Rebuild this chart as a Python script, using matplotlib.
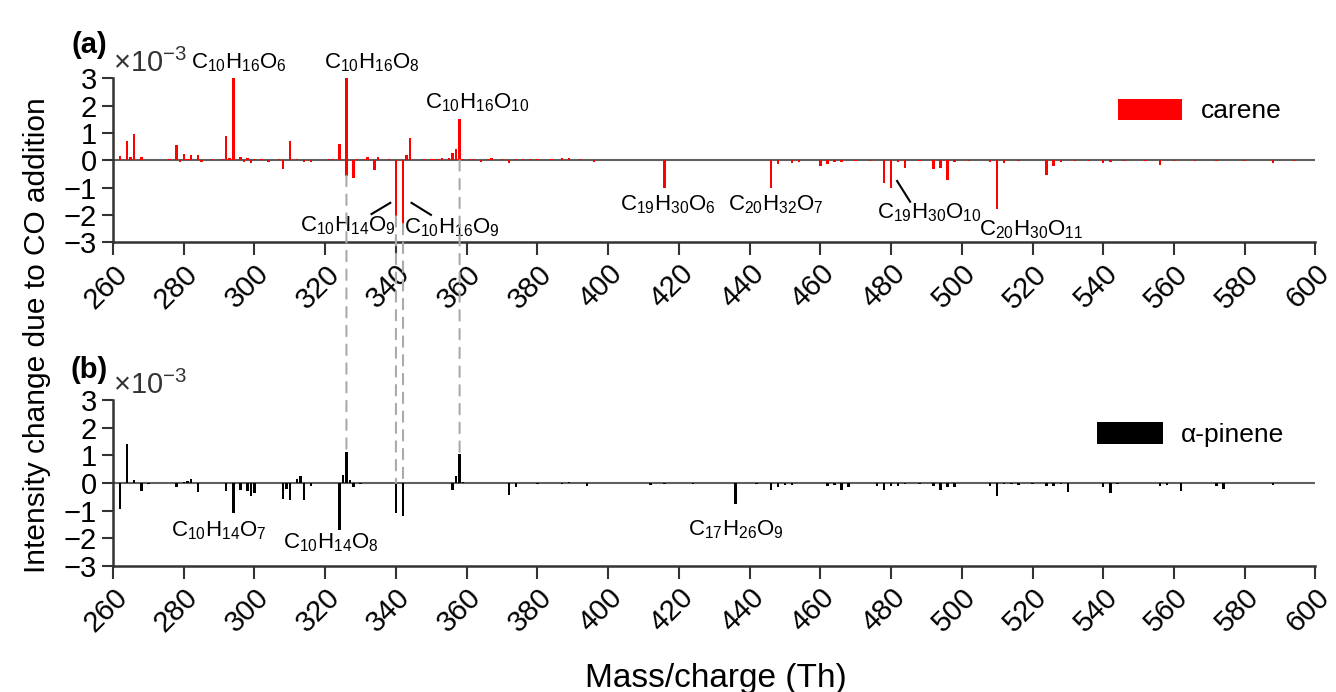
import numpy as np
import matplotlib
matplotlib.use("Agg")
import matplotlib.pyplot as plt
from matplotlib.patches import ConnectionPatch

plt.rcParams['font.family'] = ['Liberation Sans', 'DejaVu Sans']
plt.rcParams['mathtext.fontset'] = 'custom'
plt.rcParams['mathtext.rm'] = 'Liberation Sans'

# carene: mass (Th) and intensity change (x1e-3)
carene_mass = [262, 264, 265, 266, 268, 270, 276, 278, 279, 280, 281, 282, 284, 285, 288,
               291, 292, 293, 294, 296, 297, 298, 299, 300, 302, 304, 307, 308, 310, 312,
               314, 316, 321, 322, 324, 326, 326, 328, 329, 331, 332, 334, 335, 338, 340,
               342, 343, 344, 348, 350, 351, 352, 353, 355, 356, 357, 358, 359, 361, 362,
               364, 366, 367, 370, 372, 374, 376, 378, 380, 384, 387, 389, 392, 396, 400,
               404, 410, 416, 420, 426, 432, 440, 446, 448, 452, 454, 460, 462, 464, 466,
               470, 474, 478, 480, 482, 484, 488, 492, 494, 496, 498, 502, 508, 510, 512,
               516, 524, 526, 528, 532, 536, 540, 542, 546, 552, 556, 560, 566, 572, 580,
               588, 594]
carene_val = [0.16, 0.72, 0.12, 0.97, 0.10, 0.02, 0.05, 0.55, -0.05, 0.24, 0.05, 0.20, 0.18, -0.05, 0.03,
              0.05, 0.88, 0.07, 3.00, 0.10, -0.05, 0.07, -0.10, 0.05, 0.03, -0.07, 0.03, -0.32, 0.69, 0.05,
              -0.07, -0.05, 0.05, 0.05, 0.58, 3.00, -0.57, -0.64, 0.05, 0.05, 0.12, -0.36, 0.12, 0.04, -2.05,
              -2.33, 0.20, 0.81, 0.03, 0.03, 0.05, 0.05, 0.07, 0.07, 0.27, 0.40, 1.49, 0.05, 0.03, 0.05,
              -0.05, 0.03, 0.07, 0.03, -0.10, 0.03, 0.03, 0.03, 0.03, 0.03, 0.07, 0.07, 0.03, -0.07, 0.02,
              0.02, 0.02, -1.03, 0.02, 0.02, 0.02, 0.02, -1.03, -0.15, -0.12, -0.05, -0.20, -0.15, -0.07, -0.07,
              -0.03, -0.03, -0.85, -1.03, -0.05, -0.28, -0.03, -0.31, -0.28, -0.73, -0.07, -0.03, -0.07, -1.77, -0.12,
              -0.03, -0.55, -0.22, -0.05, -0.03, -0.03, -0.10, -0.07, -0.03, -0.03, -0.17, -0.03, -0.03, -0.03, -0.03,
              -0.10, -0.03]

# alpha-pinene
pinene_mass = [262, 264, 266, 268, 270, 278, 280, 281, 282, 284, 292, 294, 296, 298, 299,
               300, 308, 309, 310, 312, 313, 314, 316, 324, 325, 326, 327, 328, 330, 340,
               342, 356, 357, 358, 359, 372, 374, 380, 387, 389, 394, 412, 416, 424, 436,
               442, 446, 448, 450, 452, 462, 464, 466, 468, 476, 478, 480, 482, 484, 488,
               492, 494, 496, 498, 508, 510, 512, 514, 516, 520, 524, 526, 528, 530, 540,
               542, 544, 556, 558, 562, 572, 574, 588]
pinene_val = [-0.95, 1.41, 0.10, -0.28, -0.03, -0.15, 0.05, 0.07, 0.13, -0.32, -0.30, -1.10, -0.25, -0.30, -0.46,
              -0.35, -0.58, -0.20, -0.60, 0.15, 0.25, -0.61, -0.10, -1.68, 0.28, 1.13, 0.10, -0.15, -0.05, -1.10,
              -1.20, -0.25, 0.25, 1.05, 0.05, -0.42, -0.15, -0.03, -0.05, 0.05, -0.12, -0.07, -0.05, -0.04, -0.75,
              -0.03, -0.24, -0.15, -0.07, -0.07, -0.10, -0.08, -0.27, -0.15, -0.10, -0.24, -0.10, -0.10, -0.05, -0.05,
              -0.12, -0.25, -0.15, -0.15, -0.12, -0.46, -0.05, -0.05, -0.07, -0.04, -0.12, -0.10, -0.05, -0.34, -0.15,
              -0.36, -0.03, -0.10, -0.07, -0.28, -0.12, -0.20, -0.08]

# labels: (text, x, y)
carene_labels = [
    (r'$\mathregular{C_{10}H_{16}O_6}$', 295.6, 3.58),
    (r'$\mathregular{C_{10}H_{16}O_8}$', 333.1, 3.58),
    (r'$\mathregular{C_{10}H_{16}O_{10}}$', 363.1, 2.12),
    (r'$\mathregular{C_{10}H_{14}O_9}$', 326.4, -2.41),
    (r'$\mathregular{C_{10}H_{16}O_9}$', 355.7, -2.48),
    (r'$\mathregular{C_{19}H_{30}O_6}$', 417.0, -1.64),
    (r'$\mathregular{C_{20}H_{32}O_7}$', 447.5, -1.64),
    (r'$\mathregular{C_{19}H_{30}O_{10}}$', 490.7, -1.93),
    (r'$\mathregular{C_{20}H_{30}O_{11}}$', 519.5, -2.55),
]
pinene_labels = [
    (r'$\mathregular{C_{10}H_{14}O_7}$', 289.9, -1.73),
    (r'$\mathregular{C_{10}H_{14}O_8}$', 321.6, -2.17),
    (r'$\mathregular{C_{17}H_{26}O_9}$', 436.0, -1.70),
]
leader_lines = [((333.1, -1.97), (338.4, -1.56)),
                ((344.4, -1.56), (349.9, -2.00)),
                ((481.7, -0.76), (485.4, -1.52))]
link_mass = [326, 340, 342, 358]

fig = plt.figure(figsize=(13.36, 6.92), dpi=100)
ax1 = fig.add_axes([0.0846, 0.650, 0.900, 0.237])
ax2 = fig.add_axes([0.0846, 0.182, 0.900, 0.240])

for ax, mass, val, col, name in [(ax1, carene_mass, carene_val, '#ff0000', 'carene'),
                                 (ax2, pinene_mass, pinene_val, 'black', u'\u03b1-pinene')]:
    ax.bar(mass, val, width=0.7, color=col, linewidth=0, zorder=3)
    ax.axhline(0, color='#606060', lw=1.5, zorder=2)
    ax.set_xlim(260, 600)
    ax.set_ylim(-3, 3)
    ax.set_xticks(np.arange(260, 601, 20))
    ax.set_yticks(np.arange(-3, 4, 1))
    ax.tick_params(axis='both', direction='out', length=8, width=1.5, color='#333333',
                   labelsize=21)
    ax.tick_params(axis='x', labelrotation=45, length=9)
    for lab in ax.get_xticklabels():
        lab.set_ha('right')
        lab.set_va('top')
        lab.set_rotation_mode('anchor')
    for s in ['top', 'right']:
        ax.spines[s].set_visible(False)
    for s in ['left', 'bottom']:
        ax.spines[s].set_linewidth(1.8)
        ax.spines[s].set_color('#333333')
    ax.patch.set_alpha(0)
    ax.bar([0], [0], color=col, label=name)
    ax.text(0, 1.0, r'$\times\mathregular{10^{-3}}$', transform=ax.transAxes,
            fontsize=21, ha='left', va='bottom', color='#333333')

ax1.legend(loc='center left', bbox_to_anchor=(0.836, 0.80), frameon=False, fontsize=19,
           handlelength=2.4, handleheight=0.85, handletextpad=0.75, borderpad=0, borderaxespad=0)
ax2.legend(loc='center left', bbox_to_anchor=(0.818, 0.79), frameon=False, fontsize=19,
           handlelength=2.5, handleheight=0.9, handletextpad=0.7, borderpad=0, borderaxespad=0)

for txt, x, y in carene_labels:
    ax1.text(x, y, txt, fontsize=16, ha='center', va='center', clip_on=False)
for txt, x, y in pinene_labels:
    ax2.text(x, y, txt, fontsize=16, ha='center', va='center', clip_on=False)
for (x0, y0), (x1, y1) in leader_lines:
    ax1.plot([x0, x1], [y0, y1], color='black', lw=1.5, zorder=4)

for m in link_mass:
    y_top = min(0, min(v for mm, v in zip(carene_mass, carene_val) if mm == m))
    y_bot = max(0, max(v for mm, v in zip(pinene_mass, pinene_val) if mm == m))
    con = ConnectionPatch(xyA=(m, y_top), coordsA=ax1.transData,
                          xyB=(m, y_bot), coordsB=ax2.transData,
                          color='#aaaaaa', lw=1.5, linestyle=(0, (5, 4)), zorder=1)
    fig.add_artist(con)

fig.text(0.067, 0.935, '(a)', fontsize=21, fontweight='bold', ha='center', va='center')
fig.text(0.067, 0.465, '(b)', fontsize=21, fontweight='bold', ha='center', va='center')
fig.text(0.028, 0.516, 'Intensity change due to CO addition', fontsize=21.5, rotation=90,
         ha='center', va='center')
fig.text(0.536, 0.02, 'Mass/charge (Th)', fontsize=24, ha='center', va='center')

fig.savefig('out.png', dpi=100)
